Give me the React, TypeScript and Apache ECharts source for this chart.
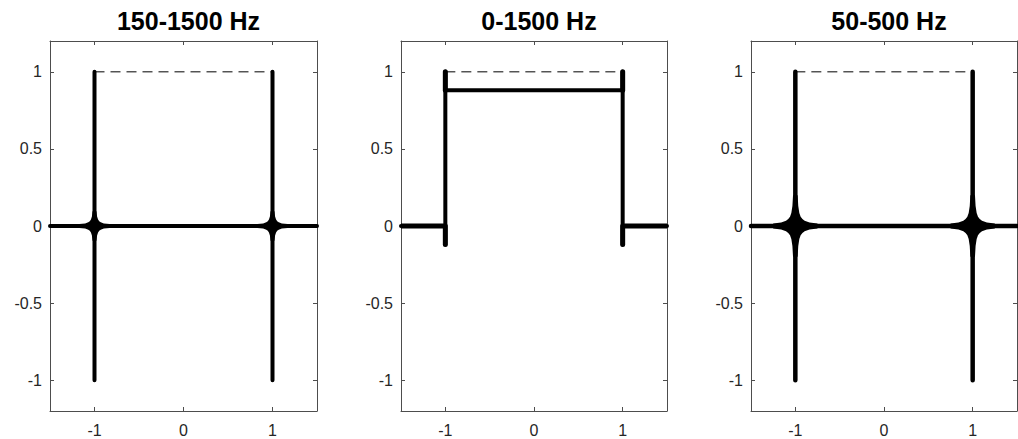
import React, { useEffect, useRef } from "react";
import * as echarts from "echarts";

const TITLES = ["150-1500 Hz", "0-1500 Hz", "50-500 Hz"];
const X_RANGE = [-1.5, 1.5];
const Y_RANGE = [-1.2, 1.2];
const X_TICKS = [-1, 0, 1];
const Y_TICKS = [-1, -0.5, 0, 0.5, 1];

// ideal (dashed) reference
const REF_LINE = [[-1, 1], [1, 1]];

// filtered traces
const TRACE_150_1500 = [
  [-1.5, 0], [-1, 0], [-1, 1], [-1, -1], [-1, 0],
  [1, 0], [1, 1], [1, -1], [1, 0], [1.5, 0],
];
const TRACE_0_1500 = [
  [-1.5, 0], [-1, 0], [-1, -0.12], [-1, 1], [-1, 0.88],
  [1, 0.88], [1, 1], [1, -0.12], [1, 0], [1.5, 0],
];
const STUBS_0_1500 = [
  [[-1, 0], [-1, -0.12]], [[-1, 0.88], [-1, 1]],
  [[1, 0], [1, -0.12]], [[1, 0.88], [1, 1]],
];
const TRACE_50_500 = [
  [-1.5, 0], [-1, 0], [-1, 1], [-1, -1], [-1, 0],
  [1, 0], [1, 1], [1, -1], [1, 0], [1.5, 0],
];

// ringing around the jumps (one quadrant of outline, offsets in data units)
const CROSSINGS = [[-1, 0], [1, 0]];
const RING_150_1500 = [
  [0.17, 0.013], [0.105, 0.016], [0.07, 0.024], [0.053, 0.031],
  [0.04, 0.042], [0.029, 0.062], [0.022, 0.095],
];
const RING_50_500 = [
  [0.25, 0.016], [0.16, 0.022], [0.105, 0.034], [0.08, 0.046],
  [0.06, 0.06], [0.045, 0.085], [0.033, 0.13], [0.026, 0.2],
];

const GRID_LEFT = [50, 401, 751];
const GRID_WIDTH = [267, 266, 266];
const GRID_TOP = 41;
const GRID_HEIGHT = 370;

const FONT = "'Liberation Sans', Arial, Helvetica, sans-serif";
const AXIS_COLOR = "#4d4d4d";
const LABEL_COLOR = "#262626";

function ringSeries(grid: number, quad: number[][]) {
  return {
    type: "custom",
    xAxisIndex: grid * 2,
    yAxisIndex: grid * 2,
    data: CROSSINGS,
    silent: true,
    z: 5,
    renderItem: (_p: any, api: any) => {
      const cx = api.value(0);
      const cy = api.value(1);
      const pts: number[][] = [];
      const rev = quad.slice().reverse();
      quad.forEach(([dx, dy]) => pts.push(api.coord([cx + dx, cy + dy])));
      rev.forEach(([dx, dy]) => pts.push(api.coord([cx - dx, cy + dy])));
      quad.forEach(([dx, dy]) => pts.push(api.coord([cx - dx, cy - dy])));
      rev.forEach(([dx, dy]) => pts.push(api.coord([cx + dx, cy - dy])));
      return { type: "polygon", shape: { points: pts }, style: { fill: "#000" } };
    },
  };
}

export default function App() {
  const ref = useRef<HTMLDivElement>(null);
  useEffect(() => {
    if (!ref.current) return;
    const chart = echarts.init(ref.current, undefined, { renderer: "svg" });

    const grids: any[] = [];
    const xAxes: any[] = [];
    const yAxes: any[] = [];
    const titles: any[] = [];
    for (let i = 0; i < 3; i++) {
      grids.push({
        left: GRID_LEFT[i],
        width: GRID_WIDTH[i],
        top: GRID_TOP,
        height: GRID_HEIGHT,
      });
      titles.push({
        text: TITLES[i],
        left: GRID_LEFT[i] + GRID_WIDTH[i] / 2,
        top: 3,
        textAlign: "center",
        textStyle: { fontFamily: FONT, fontWeight: "bold", fontSize: 25, color: "#000" },
      });
      const common = {
        type: "value",
        gridIndex: i,
        splitLine: { show: false },
        axisLine: { show: true, onZero: false, lineStyle: { color: AXIS_COLOR, width: 1 } },
      };
      xAxes.push({
        ...common,
        position: "bottom",
        min: X_RANGE[0],
        max: X_RANGE[1],
        axisTick: { inside: true, length: 4, customValues: X_TICKS, lineStyle: { color: AXIS_COLOR } },
        axisLabel: { customValues: X_TICKS, margin: 11, fontFamily: FONT, fontSize: 16, color: LABEL_COLOR },
      });
      xAxes.push({
        ...common,
        position: "top",
        min: X_RANGE[0],
        max: X_RANGE[1],
        axisTick: { inside: true, length: 4, customValues: X_TICKS, lineStyle: { color: AXIS_COLOR } },
        axisLabel: { show: false },
      });
      yAxes.push({
        ...common,
        position: "left",
        min: Y_RANGE[0],
        max: Y_RANGE[1],
        axisTick: { inside: true, length: 4, customValues: Y_TICKS, lineStyle: { color: AXIS_COLOR } },
        axisLabel: { customValues: Y_TICKS, margin: 8, fontFamily: FONT, fontSize: 16, color: LABEL_COLOR },
      });
      yAxes.push({
        ...common,
        position: "right",
        min: Y_RANGE[0],
        max: Y_RANGE[1],
        axisTick: { inside: true, length: 4, customValues: Y_TICKS, lineStyle: { color: AXIS_COLOR } },
        axisLabel: { show: false },
      });
    }

    const line = (grid: number, data: number[][], width: number, extra: any = {}) => ({
      type: "line",
      xAxisIndex: grid * 2,
      yAxisIndex: grid * 2,
      data,
      showSymbol: false,
      symbol: "none",
      silent: true,
      clip: true,
      lineStyle: { color: "#000", width, cap: "round", join: "round", ...extra },
    });

    const series: any[] = [];
    for (let i = 0; i < 3; i++) {
      series.push(line(i, REF_LINE, 1, { type: [10, 6], cap: "butt" }));
    }
    series.push(line(0, TRACE_150_1500, 4));
    series.push(ringSeries(0, RING_150_1500));
    series.push(line(1, TRACE_0_1500, 4));
    STUBS_0_1500.forEach((s) => series.push(line(1, s, 5)));
    series.push(line(1, [[-1.5, 0], [-1, 0]], 5, { cap: "butt" }));
    series.push(line(1, [[1, 0], [1.5, 0]], 5, { cap: "butt" }));
    series.push(line(2, TRACE_50_500, 4.5));
    series.push(ringSeries(2, RING_50_500));

    chart.setOption({
      animation: false,
      backgroundColor: "#fff",
      title: titles,
      grid: grids,
      xAxis: xAxes,
      yAxis: yAxes,
      series,
    });
    return () => chart.dispose();
  }, []);
  return (
    <div
      ref={ref}
      style={{ position: "fixed", left: 0, top: 0, width: 1018, height: 439, background: "#fff" }}
    />
  );
}
